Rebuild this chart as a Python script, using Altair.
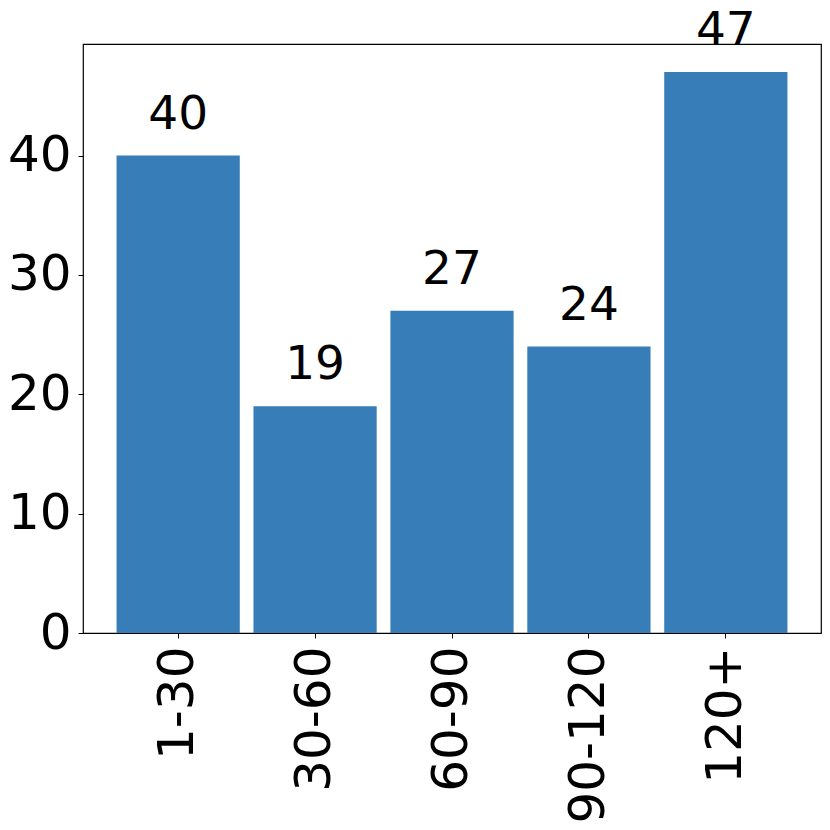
import altair as alt
import pandas as pd

categories = ["1-30", "30-60", "60-90", "90-120", "120+"]
counts = [40, 19, 27, 24, 47]

df = pd.DataFrame({"cat": categories, "count": counts})

FONT = "DejaVu Sans"

x = alt.X("cat:N", sort=categories, title=None,
          scale=alt.Scale(paddingInner=0.1, paddingOuter=0.245),
          axis=alt.Axis(labelAngle=270, labelAlign="right", labelBaseline="middle",
                        labelFontSize=50, labelFont=FONT, labelColor="black",
                        labelPadding=8, tickSize=5, tickColor="black", tickWidth=1,
                        domain=False, grid=False))
y = alt.Y("count:Q", title=None,
          scale=alt.Scale(domain=[0, 49.35], nice=False, zero=True),
          axis=alt.Axis(values=[0, 10, 20, 30, 40], labelFontSize=50, labelFont=FONT,
                        labelColor="black", labelPadding=7, tickSize=5, tickColor="black",
                        tickWidth=1, domain=False, grid=False))

bars = alt.Chart(df).mark_bar(color="#377eb8").encode(x=x, y=y)
labels = alt.Chart(df).mark_text(font=FONT, fontSize=47, color="black",
                                 baseline="alphabetic", align="center", dy=-27).encode(
    x=alt.X("cat:N", sort=categories), y=alt.Y("count:Q"), text="count:Q")

chart = alt.layer(bars, labels).properties(
    width=738, height=589,
    autosize=alt.AutoSizeParams(type="none"),
    padding={"left": 75, "top": 36, "right": 1, "bottom": 188},
    background="white",
).configure_view(stroke="black", strokeWidth=1.2)

chart.save("out.html", embed_options={"renderer": "svg", "actions": False})
